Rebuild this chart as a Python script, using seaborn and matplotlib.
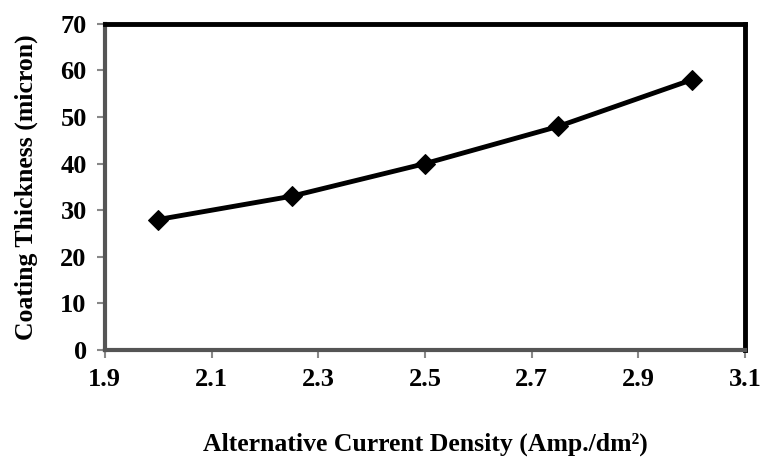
import matplotlib
matplotlib.use("Agg")
import matplotlib.pyplot as plt
import seaborn as sns
import pandas as pd
import numpy as np

current_density = [2.0, 2.25, 2.5, 2.75, 3.0]
thickness = [28, 33, 40, 48, 58]
x_ticks = [1.9, 2.1, 2.3, 2.5, 2.7, 2.9, 3.1]
y_ticks = [0, 10, 20, 30, 40, 50, 60, 70]

sns.set_theme(style="white")
plt.rcParams['font.family'] = ['Liberation Serif', 'DejaVu Serif']
plt.rcParams['font.weight'] = 'bold'
plt.rcParams['text.color'] = 'black'
plt.rcParams['axes.labelcolor'] = 'black'
plt.rcParams['xtick.labelcolor'] = 'black'
plt.rcParams['ytick.labelcolor'] = 'black'

df = pd.DataFrame({"x": current_density, "y": thickness})

fig = plt.figure(figsize=(7.65, 4.59), dpi=100)
ax = fig.add_axes([0.137, 0.2375, 0.837, 0.7105])

sns.lineplot(data=df, x="x", y="y", ax=ax, color="black", linewidth=3.5,
             marker="D", markersize=10, markeredgecolor="black", markerfacecolor="black")

ax.set_xlim(1.9, 3.1)
ax.set_ylim(0, 70)
ax.set_xticks(x_ticks)
ax.set_yticks(y_ticks)
ax.set_xticklabels([f"{v:.1f}" for v in x_ticks], fontsize=19, fontweight="bold", color="black")
ax.set_yticklabels([str(v) for v in y_ticks], fontsize=19, fontweight="bold", color="black")

ax.set_xlabel("Alternative Current Density (Amp./dm²)", fontsize=18.5,
              fontweight="bold", labelpad=30, color="black")
ax.set_ylabel("Coating Thickness (micron)", fontsize=18.5, fontweight="bold",
              labelpad=16, color="black")

for s in ["top", "right"]:
    ax.spines[s].set_color("black")
    ax.spines[s].set_linewidth(3.5)
for s in ["left", "bottom"]:
    ax.spines[s].set_color("#555555")
    ax.spines[s].set_linewidth(3)

ax.tick_params(axis="both", which="major", direction="out", length=6, width=1.5,
               color="#888888", pad=7, bottom=True, left=True)

fig.savefig("out.png", dpi=100)
